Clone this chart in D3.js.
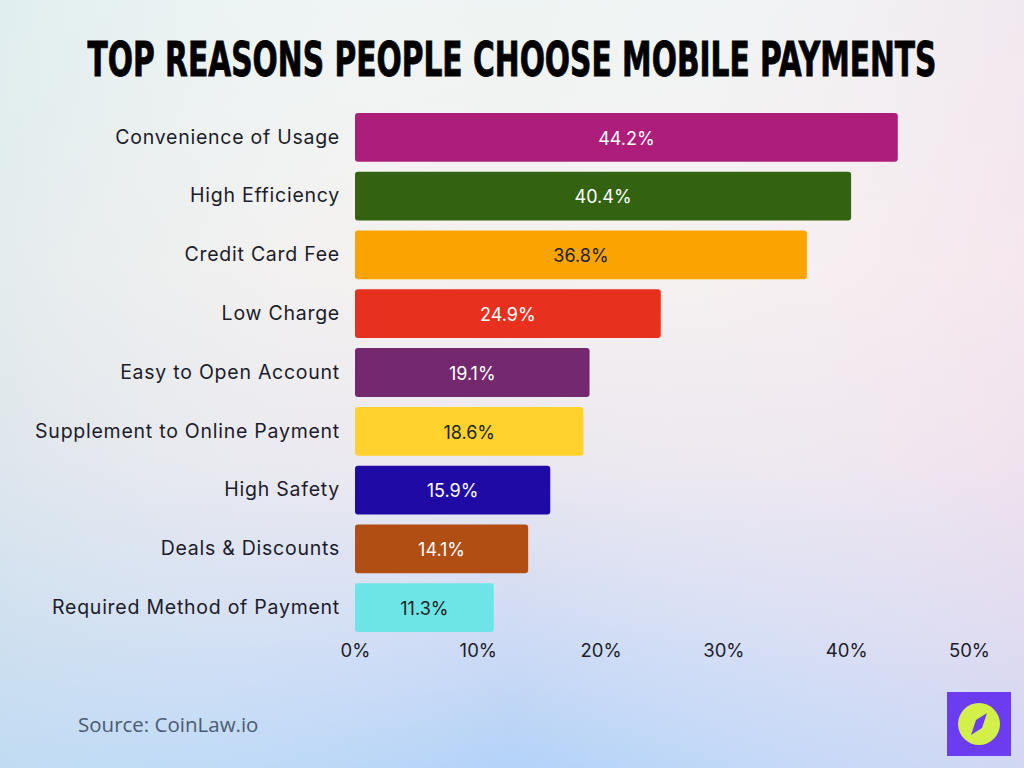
<!DOCTYPE html>
<html><head><meta charset="utf-8">
<script src="https://cdn.jsdelivr.net/npm/d3@7"></script>
<style>html,body{margin:0;padding:0;}svg{display:block;}</style>
</head><body>
<script>
const categories = ["Convenience of Usage","High Efficiency","Credit Card Fee","Low Charge","Easy to Open Account","Supplement to Online Payment","High Safety","Deals & Discounts","Required Method of Payment"];
const values = [44.2,40.4,36.8,24.9,19.1,18.6,15.9,14.1,11.3];
const barColors = ["#ad1e7a","#336311","#fba300","#e8301f","#74286e","#ffd22e","#1f0aa6","#b04e14","#6de4e6"];
const labelColors = ["#fff","#fff","#222","#fff","#fff","#222","#fff","#fff","#222"];
const ticks = [0,10,20,30,40,50];
const title = "Top Reasons People Choose Mobile Payments";
const source = "Source: CoinLaw.io";

const W = 1024, H = 768;
const svg = d3.select("body").append("svg").attr("width", W).attr("height", H);
const defs = svg.append("defs");
const lg = defs.append("linearGradient").attr("id","bg").attr("x1",0).attr("y1",0).attr("x2",0).attr("y2",1);
[["0%","#eef4f3"],["35%","#f5f0ef"],["60%","#ebe7ef"],["80%","#d2dcf4"],["100%","#b3d2f8"]].forEach(([o,c])=>lg.append("stop").attr("offset",o).attr("stop-color",c));
svg.append("rect").attr("width",W).attr("height",H).attr("fill","url(#bg)");
const hg = defs.append("linearGradient").attr("id","hz").attr("x1",0).attr("y1",0).attr("x2",1).attr("y2",0);
hg.append("stop").attr("offset","0%").attr("stop-color","#cfe6ea").attr("stop-opacity",0.45);
hg.append("stop").attr("offset","50%").attr("stop-color","#ffffff").attr("stop-opacity",0);
hg.append("stop").attr("offset","100%").attr("stop-color","#f6dcec").attr("stop-opacity",0.45);
svg.append("rect").attr("width",W).attr("height",H).attr("fill","url(#hz)");

svg.append("text").attr("transform","translate(512,76) scale(1,1.4)").attr("text-anchor","middle")
  .attr("font-family","'DejaVu Sans Condensed','Liberation Sans Narrow',sans-serif")
  .attr("font-weight","bold").attr("font-size",34).attr("fill","#000")
  .attr("stroke","#000").attr("stroke-width",0.6)
  .attr("textLength",849).attr("lengthAdjust","spacingAndGlyphs")
  .text(title.toUpperCase());

const x = d3.scaleLinear().domain([0,50]).range([355,969]);
const y = d3.scaleBand().domain(categories).range([108,637]).paddingInner(0.17).paddingOuter(0.085);

const g = svg.append("g");
g.selectAll("rect.bar").data(values).join("rect").attr("class","bar")
  .attr("x",x(0)).attr("y",(d,i)=>y(categories[i]))
  .attr("width",d=>x(d)-x(0)).attr("height",y.bandwidth())
  .attr("rx",3).attr("fill",(d,i)=>barColors[i]);

g.selectAll("text.val").data(values).join("text").attr("class","val")
  .attr("x",d=>(x(d)+x(0))/2).attr("y",(d,i)=>y(categories[i])+y.bandwidth()/2+1)
  .attr("dy","0.35em").attr("text-anchor","middle")
  .attr("font-family","Inter, 'Open Sans', sans-serif").attr("font-size",18)
  .attr("fill",(d,i)=>labelColors[i]).text(d=>d.toFixed(1)+"%");

const yAxis = d3.axisLeft(y).tickSize(0).tickPadding(15);
const ya = svg.append("g").attr("transform",`translate(${x(0)},0)`).call(yAxis);
ya.select(".domain").remove();
ya.selectAll("text").attr("font-family","Inter, 'Open Sans', sans-serif").attr("font-size",19.5)
  .attr("letter-spacing",0.75).attr("fill","#1c1c2a");

const xAxis = d3.axisBottom(x).tickValues(ticks).tickSize(0).tickPadding(0).tickFormat(d=>d+"%");
const xa = svg.append("g").attr("transform","translate(0,644)").call(xAxis);
xa.select(".domain").remove();
xa.selectAll("text").attr("font-family","Inter, 'Open Sans', sans-serif").attr("font-size",18.5).attr("fill","#1c1c2a");

svg.append("text").attr("x",78).attr("y",732).attr("font-family","'Open Sans', sans-serif")
  .attr("font-size",20.5).attr("fill","#4b5b72").text(source);

const logo = svg.append("g").attr("transform","translate(979,724)");
logo.append("rect").attr("x",-32).attr("y",-32).attr("width",64).attr("height",64).attr("fill","#6c3cf0");
logo.append("circle").attr("r",21).attr("fill","#d3ef4a");
logo.append("path").attr("d","M8,-11 L3,4 L-8,11 L-3,-4 Z").attr("fill","#6c3cf0");
</script>
</body></html>
